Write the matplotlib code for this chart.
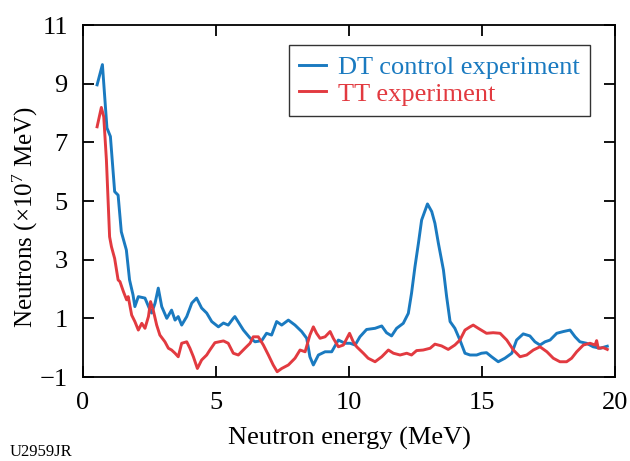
import matplotlib
matplotlib.use("Agg")
import matplotlib.pyplot as plt

plt.rcParams['font.family'] = ['Liberation Serif', 'DejaVu Serif']
plt.rcParams['mathtext.fontset'] = 'custom'
plt.rcParams['mathtext.rm'] = 'Liberation Serif'
plt.rcParams['mathtext.it'] = 'Liberation Serif:italic'

dt_x = [0.53, 0.73, 0.9, 1.03, 1.19, 1.32, 1.44, 1.63, 1.75, 1.88, 1.95, 2.08, 2.33, 2.52, 2.58,
        2.71, 2.83, 2.96, 3.15, 3.33, 3.46, 3.58, 3.71, 3.9, 4.09, 4.27, 4.46, 4.65, 4.84, 5.09,
        5.28, 5.46, 5.65, 5.71, 6.03, 6.28, 6.47, 6.72, 6.9, 7.09, 7.28, 7.47, 7.72, 7.97, 8.22,
        8.41, 8.53, 8.66, 8.85, 9.1, 9.35, 9.6, 9.85, 10.04, 10.23, 10.41, 10.66, 10.98, 11.23,
        11.41, 11.6, 11.79, 12.04, 12.23, 12.35, 12.48, 12.61, 12.73, 12.95, 13.11, 13.23, 13.36,
        13.55, 13.67, 13.8, 13.98, 14.17, 14.36, 14.55, 14.8, 14.98, 15.17, 15.36, 15.61, 15.86,
        16.12, 16.3, 16.55, 16.8, 16.99, 17.18, 17.37, 17.56, 17.81, 18.06, 18.31, 18.5, 18.68,
        18.93, 19.18, 19.44, 19.71]
dt_y = [8.96, 9.65, 7.49, 7.2, 5.32, 5.2, 3.95, 3.33, 2.31, 1.8, 1.40, 1.74, 1.69, 1.28, 1.18,
        1.52, 2.03, 1.40, 1.0, 1.28, 0.94, 1.06, 0.77, 1.06, 1.52, 1.69, 1.35, 1.18, 0.89, 0.71,
        0.84, 0.77, 1.0, 1.06, 0.6, 0.33, 0.2, 0.24, 0.49, 0.43, 0.89, 0.77, 0.94, 0.77, 0.55,
        0.32, -0.31, -0.59, -0.25, -0.14, -0.14, 0.26, 0.15, 0.15, 0.09, 0.37, 0.62, 0.66, 0.74,
        0.51, 0.40, 0.66, 0.83, 1.17, 1.85, 2.76, 3.56, 4.35, 4.9, 4.64, 4.24, 3.56,
        2.65, 1.74, 0.89, 0.66, 0.26, -0.19, -0.25, -0.25, -0.19, -0.17, -0.31, -0.48, -0.36,
        -0.19, 0.26, 0.47, 0.4, 0.2, 0.09, 0.2, 0.26, 0.49, 0.55, 0.6, 0.37, 0.2,
        0.15, 0.03, -0.02, 0.05]

tt_x = [0.53, 0.69, 0.78, 0.88, 1.0, 1.07, 1.19, 1.32, 1.39, 1.52, 1.64, 1.7, 1.83, 1.95, 2.08,
        2.21, 2.33, 2.46, 2.54, 2.64, 2.77, 2.89, 3.08, 3.21, 3.33, 3.46, 3.58, 3.71, 3.9, 4.02,
        4.15, 4.3, 4.46, 4.65, 4.77, 4.96, 5.28, 5.46, 5.65, 5.84, 6.09, 6.28, 6.4, 6.59, 6.78,
        6.97, 7.15, 7.3, 7.47, 7.72, 7.97, 8.16, 8.35, 8.53, 8.66, 8.78, 8.91, 9.1, 9.29, 9.41,
        9.6, 9.79, 10.02, 10.16, 10.29, 10.54, 10.72, 10.98, 11.23, 11.48, 11.67, 11.92, 12.17,
        12.35, 12.54, 12.79, 13.05, 13.23, 13.48, 13.73, 13.98, 14.17, 14.36, 14.55, 14.67, 14.86,
        15.17, 15.42, 15.68, 15.93, 16.18, 16.43, 16.68, 16.93, 17.18, 17.44, 17.68, 17.93, 18.18,
        18.37, 18.56, 18.81, 19.06, 19.25, 19.31, 19.37, 19.56, 19.71]
tt_y = [7.53, 8.19, 7.87, 6.4, 3.78, 3.44, 3.04, 2.31, 2.25, 1.91, 1.63, 1.74, 1.11, 0.89, 0.6,
        0.83, 0.66, 1.06, 1.57, 1.28, 0.77, 0.43, 0.2, -0.02, -0.08, -0.19, -0.31, 0.15, 0.2, -0.02,
        -0.31, -0.71, -0.42, -0.25, -0.08, 0.17, 0.23, 0.15, -0.19, -0.25, -0.02, 0.15, 0.37, 0.37, 0.09,
        -0.25, -0.59, -0.82, -0.71, -0.59, -0.36, -0.08, -0.14, 0.43, 0.71, 0.49, 0.32, 0.37, 0.55, 0.32,
        0.03, 0.09, 0.49, 0.2, 0.03, -0.19, -0.36, -0.48, -0.31, -0.08, -0.19, -0.25, -0.19,
        -0.25, -0.1, -0.08, -0.02, 0.12, 0.06, -0.06, 0.09, 0.26, 0.6, 0.71, 0.77, 0.66,
        0.49, 0.51, 0.49, 0.26, -0.08, -0.31, -0.25, -0.08, 0.03, -0.14, -0.36, -0.48, -0.48,
        -0.36, -0.14, 0.09, 0.15, 0.09, 0.24, -0.02, 0.0, -0.06]

x_ticks = [0, 5, 10, 15, 20]
y_ticks = [-1, 1, 3, 5, 7, 9, 11]

blue = '#1a7ac0'
red = '#e23a40'

fig = plt.figure(figsize=(6.3, 4.61), dpi=100)
ax = fig.add_axes([83/630, 84/461, (615-83)/630, (377-25)/461])
ax.plot(dt_x, dt_y, color=blue, lw=2.1, label='DT control experiment')
ax.plot(tt_x, tt_y, color=red, lw=2.1, label='TT experiment')
ax.set_xlim(0, 20)
ax.set_ylim(-1, 11)
ax.set_xticks(x_ticks)
ax.set_yticks(y_ticks)
ax.tick_params(direction='in', length=8, width=1.3, top=True, right=True, labelsize=19)
ax.tick_params(axis='x', pad=11)
ax.tick_params(axis='y', pad=11)
for s in ax.spines.values():
    s.set_linewidth(1.3)
ax.set_xlabel('Neutron energy (MeV)', fontsize=19, labelpad=9)
ax.set_ylabel('Neutrons (×10$^7$ MeV)', fontsize=18)
ax.yaxis.set_label_coords(-0.081, 0.455)
leg = ax.legend(loc='upper right', bbox_to_anchor=(0.953, 0.943), fontsize=19, frameon=True,
                fancybox=False, edgecolor='black', handlelength=1.0, handletextpad=0.45,
                borderpad=0.4, labelspacing=0.12, borderaxespad=0)
leg.get_frame().set_linewidth(1.0)
for t, c in zip(leg.get_texts(), [blue, red]):
    t.set_color(c)
fig.text(10/630, 1/461, 'U2959JR', fontsize=12, ha='left', va='bottom')
fig.savefig('out.png', dpi=100)
